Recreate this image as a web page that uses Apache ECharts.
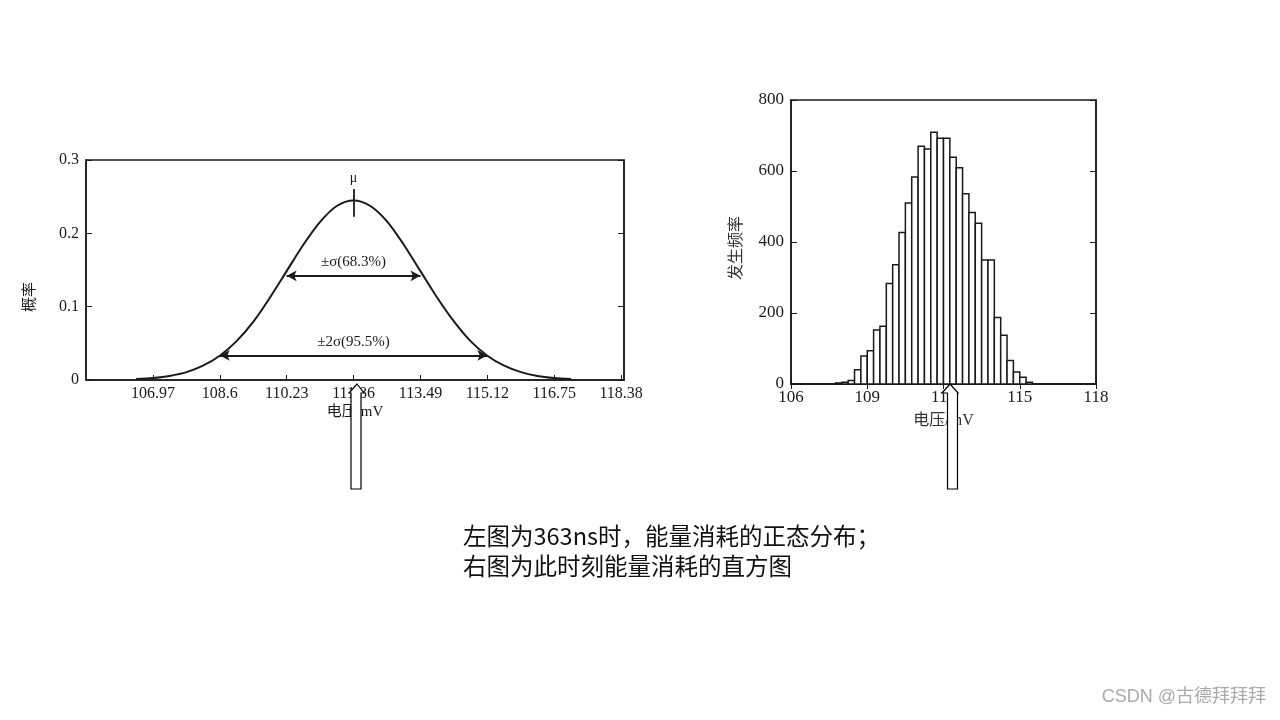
<!DOCTYPE html>
<html>
<head>
<meta charset="utf-8">
<script src="https://cdn.jsdelivr.net/npm/echarts@6/dist/echarts.min.js"></script>
<style>
html,body{margin:0;padding:0;background:#fff;}
#chart{width:1280px;height:720px;}
</style>
</head>
<body>
<div id="chart"></div>
<script>
// ---- Left chart: normal distribution ----
const curveX = [106.56,106.97,107.38,107.79,108.19,108.6,109.01,109.42,109.82,110.23,110.64,111.05,111.45,111.86,
                112.27,112.68,113.08,113.49,113.90,114.31,114.71,115.12,115.53,115.94,116.34,116.75,117.16];
const curveY = [0.0012,0.0027,0.0056,0.0107,0.0195,0.0331,0.0530,0.0795,0.1121,0.1485,0.1848,0.2160,0.2373,0.2448,
                0.2373,0.2160,0.1848,0.1485,0.1121,0.0795,0.0530,0.0331,0.0195,0.0107,0.0056,0.0027,0.0012];
const leftTickValues = [106.97,108.6,110.23,111.86,113.49,115.12,116.75,118.38];
const leftTickLabels = ['106.97','108.6','110.23','111.86','113.49','115.12','116.75','118.38'];
const sigma1 = [110.23, 113.49, 0.142];   // from, to, level
const sigma2 = [108.6, 115.12, 0.0335];
const sigma1Label = '±σ(68.3%)';
const sigma2Label = '±2σ(95.5%)';
const muX = 111.86;
const muSpan = [0.2225, 0.2605];

// ---- Right chart: histogram ----
const binWidth = 0.25;
const binStarts = [107.75,108.0,108.25,108.5,108.75,109.0,109.25,109.5,109.75,110.0,110.25,110.5,110.75,111.0,111.25,
                   111.5,111.75,112.0,112.25,112.5,112.75,113.0,113.25,113.5,113.75,114.0,114.25,114.5,114.75,115.0,115.25];
const binCounts = [3,5,10,40,79,94,152,163,283,336,427,510,583,670,662,
                   709,692,692,639,609,536,483,453,349,349,187,137,66,34,19,5];
const rightTickValues = [106,109,112,115,118];

const captionLines = ['左图为363ns时，能量消耗的正态分布；','右图为此时刻能量消耗的直方图'];
const watermark = 'CSDN @古德拜拜拜';

const SERIF = "'Liberation Serif','Noto Sans CJK SC',serif";
const INK = '#1a1a1a';

const chart = echarts.init(document.getElementById('chart'), null, {renderer:'canvas'});

const histData = binStarts.map((s,i)=>[s, s + binWidth, binCounts[i]]);

const axisCommon = {
  axisLine:{show:true, lineStyle:{color:INK, width:1.5}},
  splitLine:{show:false},
};

const option = {
  animation:false,
  backgroundColor:'#fff',
  grid:[
    {left:86, top:160, right:1280-624, bottom:720-380, show:true, borderColor:INK, borderWidth:1.5, backgroundColor:'transparent'},
    {left:791, top:100, right:1280-1096, bottom:720-384, show:true, borderColor:INK, borderWidth:1.5, backgroundColor:'transparent'}
  ],
  xAxis:[
    Object.assign({}, axisCommon, {
      type:'value', gridIndex:0, min:105.34, max:118.45,
      name:'电压/mV', nameLocation:'middle', nameGap:25,
      nameTextStyle:{fontFamily:SERIF, fontSize:15, color:INK},
      axisTick:{show:true, inside:true, length:5, customValues:leftTickValues, lineStyle:{color:INK}},
      axisLabel:{customValues:leftTickValues, margin:6, fontFamily:SERIF, fontSize:16, color:INK,
        formatter:(v)=>{const i = leftTickValues.findIndex(t=>Math.abs(t-v)<1e-6); return i>=0?leftTickLabels[i]:'';}}
    }),
    Object.assign({}, axisCommon, {
      type:'value', gridIndex:1, min:106, max:118,
      name:'电压/mV', nameLocation:'middle', nameGap:29,
      nameTextStyle:{fontFamily:SERIF, fontSize:16, color:'#333'},
      axisTick:{show:true, inside:true, length:5, customValues:rightTickValues, lineStyle:{color:INK}},
      axisLabel:{customValues:rightTickValues, margin:5, fontFamily:SERIF, fontSize:17, color:INK}
    }),
    Object.assign({}, axisCommon, {
      type:'value', gridIndex:1, position:'top', min:106, max:118,
      axisTick:{show:true, inside:true, length:5, customValues:rightTickValues, lineStyle:{color:INK}},
      axisLabel:{show:false}
    })
  ],
  yAxis:[
    Object.assign({}, axisCommon, {
      type:'value', gridIndex:0, min:0, max:0.3, interval:0.1,
      name:'概率', nameLocation:'middle', nameGap:48, nameRotate:90,
      nameTextStyle:{fontFamily:SERIF, fontSize:15, color:INK, padding:[0,54,0,0]},
      axisTick:{show:true, inside:true, length:6, lineStyle:{color:INK}},
      axisLabel:{margin:7, fontFamily:SERIF, fontSize:16, color:INK}
    }),
    Object.assign({}, axisCommon, {
      type:'value', gridIndex:0, position:'right', min:0, max:0.3, interval:0.1,
      axisTick:{show:true, inside:true, length:6, lineStyle:{color:INK}},
      axisLabel:{show:false}
    }),
    Object.assign({}, axisCommon, {
      type:'value', gridIndex:1, min:0, max:800, interval:200,
      name:'发生频率', nameLocation:'middle', nameGap:46, nameRotate:90,
      nameTextStyle:{fontFamily:SERIF, fontSize:16, color:'#333', padding:[0,12,0,0]},
      axisTick:{show:true, inside:true, length:6, lineStyle:{color:INK}},
      axisLabel:{margin:7, fontFamily:SERIF, fontSize:17, color:INK}
    }),
    Object.assign({}, axisCommon, {
      type:'value', gridIndex:1, position:'right', min:0, max:800, interval:200,
      axisTick:{show:true, inside:true, length:6, lineStyle:{color:INK}},
      axisLabel:{show:false}
    })
  ],
  series:[
    {
      type:'line', xAxisIndex:0, yAxisIndex:0, smooth:0.3, showSymbol:false, symbol:'none',
      lineStyle:{color:INK, width:2}, z:5,
      data: curveX.map((x,i)=>[x, curveY[i]]),
      markLine:{
        silent:true, animation:false,
        symbol:['arrow','arrow'], symbolSize:[8,10],
        lineStyle:{type:'solid', color:INK, width:1.8},
        label:{color:INK, fontFamily:SERIF, fontSize:15},
        data:[
          [{coord:[sigma1[0], sigma1[2]], label:{show:true, position:'middle', formatter:sigma1Label, distance:6}},
           {coord:[sigma1[1], sigma1[2]]}],
          [{coord:[sigma2[0], sigma2[2]], label:{show:true, position:'middle', formatter:sigma2Label, distance:6}},
           {coord:[sigma2[1], sigma2[2]]}],
          [{coord:[muX, muSpan[0]], symbol:'none', label:{show:true, position:'end', formatter:'μ', distance:4, fontSize:14}},
           {coord:[muX, muSpan[1]], symbol:'none'}]
        ]
      }
    },
    {
      type:'custom', xAxisIndex:1, yAxisIndex:2, z:5,
      encode:{x:[0,1], y:2},
      data: histData,
      renderItem:(params, api)=>{
        const p0 = api.coord([api.value(0), api.value(2)]);
        const p1 = api.coord([api.value(1), 0]);
        return {type:'rect',
          shape:{x:p0[0], y:p0[1], width:p1[0]-p0[0], height:p1[1]-p0[1]},
          style:{fill:'#fff', stroke:INK, lineWidth:1.5}};
      }
    }
  ],
  graphic:[
    {type:'polygon', z:100, shape:{points:[[357,384],[364,393],[361,393],[361,489],[351,489],[351,393],[349,393]]},
      style:{fill:'#fff', stroke:'#000', lineWidth:1.2}},
    {type:'polygon', z:100, shape:{points:[[950,384],[958,393],[957.5,393],[957.5,489],[947.5,489],[947.5,393],[942,393]]},
      style:{fill:'#fff', stroke:'#000', lineWidth:1.2}},
    {type:'text', z:100, left:463, top:524, style:{text:captionLines[0], font:"23.5px 'Noto Sans CJK SC', sans-serif", fill:'#111'}},
    {type:'text', z:100, left:463, top:554, style:{text:captionLines[1], font:"23.5px 'Noto Sans CJK SC', sans-serif", fill:'#111'}},
    {type:'text', z:100, right:14, top:688, style:{text:watermark, font:"18px 'Liberation Sans','Noto Sans CJK SC', sans-serif", fill:'#aaaaaa'}}
  ]
};
chart.setOption(option);
</script>
</body>
</html>
